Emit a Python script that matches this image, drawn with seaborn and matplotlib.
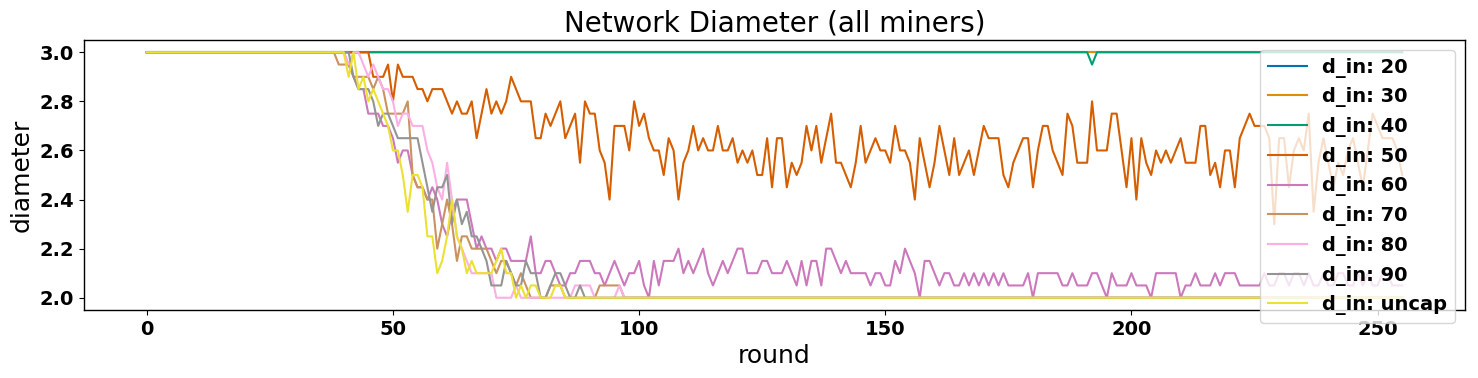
import matplotlib
matplotlib.use("Agg")
import matplotlib.pyplot as plt
import seaborn as sns
import numpy as np
import pandas as pd

# ---------------- data ----------------
N_ROUNDS = 256
rounds = list(range(N_ROUNDS))

labels = ["d_in: 20", "d_in: 30", "d_in: 40", "d_in: 50", "d_in: 60",
          "d_in: 70", "d_in: 80", "d_in: 90", "d_in: uncap"]

d20 = [3.0] * 256
d30 = [3.0] * 256
d40 = [3.0] * 192 + [2.95] + [3.0] * 63

d50 = ([3.0] * 46 +
       [2.9, 2.9, 2.9, 2.95, 2.8, 2.95, 2.9, 2.9, 2.9, 2.85,
        2.85, 2.8, 2.85, 2.85, 2.85, 2.8, 2.75, 2.8, 2.75, 2.75,
        2.8, 2.65, 2.75, 2.85, 2.75, 2.8, 2.75, 2.8, 2.9, 2.85,
        2.8, 2.8, 2.8, 2.65, 2.65, 2.75, 2.7, 2.75, 2.8, 2.65,
        2.7, 2.75, 2.55, 2.8, 2.75, 2.75, 2.6, 2.55, 2.4, 2.7] +
       [2.7, 2.7, 2.6, 2.8, 2.7, 2.75, 2.65, 2.6, 2.6, 2.5,
        2.65, 2.6, 2.4, 2.55, 2.6, 2.7, 2.6, 2.65, 2.6, 2.6,
        2.7, 2.6, 2.6, 2.65, 2.55, 2.6, 2.55, 2.6, 2.5, 2.5,
        2.65, 2.45, 2.65, 2.65, 2.45, 2.55, 2.5, 2.55, 2.7, 2.6,
        2.7, 2.55, 2.65, 2.75, 2.55, 2.55, 2.5, 2.45] +
       [2.55, 2.7, 2.55, 2.6, 2.65, 2.6, 2.6, 2.55, 2.7, 2.6,
        2.6, 2.55, 2.4, 2.65, 2.55, 2.45, 2.55, 2.7, 2.6, 2.5,
        2.65, 2.5, 2.55, 2.6, 2.5, 2.6, 2.7, 2.65, 2.65, 2.65,
        2.5, 2.45, 2.55, 2.6, 2.65, 2.65, 2.45, 2.6, 2.7, 2.7,
        2.6, 2.55, 2.5, 2.75, 2.7, 2.55, 2.55, 2.55, 2.8, 2.6] +
       [2.6, 2.6, 2.75, 2.75, 2.6, 2.45, 2.65, 2.4, 2.65, 2.55,
        2.5, 2.6, 2.55, 2.6, 2.55, 2.6, 2.65, 2.55, 2.55, 2.55,
        2.7, 2.7, 2.5, 2.55, 2.45, 2.6, 2.6, 2.45, 2.65, 2.7,
        2.75, 2.7] +
       [2.7, 2.7, 2.65, 2.3, 2.65, 2.65, 2.45, 2.6, 2.65, 2.6,
        2.75, 2.35, 2.55, 2.65, 2.55, 2.45, 2.55, 2.5, 2.6, 2.65,
        2.55, 2.45, 2.6, 2.75, 2.7, 2.65, 2.65, 2.65, 2.6, 2.5])

d60 = ([3.0] * 40 +
       [3.0, 2.95, 2.9, 2.85, 2.85, 2.75, 2.75, 2.75, 2.7, 2.7,
        2.65, 2.55, 2.6, 2.6, 2.5, 2.45] +
       [2.45, 2.4, 2.45, 2.4, 2.3, 2.25, 2.35, 2.4, 2.4, 2.4,
        2.3, 2.2, 2.25, 2.2, 2.2, 2.15, 2.2, 2.2, 2.15, 2.15] +
       [2.15, 2.15, 2.25, 2.1, 2.1, 2.15, 2.15, 2.1, 2.05, 2.05,
        2.1, 2.1, 2.15, 2.15, 2.15, 2.1, 2.1, 2.05, 2.1] +
       [2.15, 2.1, 2.05, 2.1, 2.1, 2.15, 2.05, 2.0, 2.15, 2.05,
        2.15, 2.15, 2.15, 2.2, 2.1, 2.15, 2.1, 2.15, 2.2, 2.1,
        2.05, 2.1, 2.15, 2.1, 2.15, 2.2, 2.2, 2.1, 2.1, 2.1,
        2.15, 2.15, 2.1, 2.1, 2.1, 2.15, 2.1, 2.05, 2.15, 2.05,
        2.15, 2.15, 2.05, 2.2, 2.2, 2.15, 2.1] +
       [2.15, 2.1, 2.1, 2.1, 2.1, 2.05, 2.1, 2.1, 2.05, 2.05,
        2.15, 2.1, 2.2, 2.15, 2.1, 2.0, 2.15, 2.15, 2.1, 2.05,
        2.1, 2.1, 2.05, 2.05, 2.1, 2.05, 2.1, 2.05, 2.1, 2.05,
        2.1, 2.05, 2.1, 2.05, 2.05, 2.05, 2.05, 2.1, 2.0, 2.1,
        2.1, 2.1, 2.1, 2.1, 2.05, 2.05, 2.1, 2.05, 2.05, 2.05,
        2.1, 2.1] +
       [2.05, 2.0, 2.1, 2.05, 2.05, 2.05, 2.1, 2.05, 2.05, 2.05,
        2.0, 2.1, 2.1, 2.1, 2.1, 2.1, 2.0, 2.05, 2.05, 2.1,
        2.05, 2.05, 2.05, 2.1, 2.05, 2.1, 2.1, 2.1, 2.05, 2.05,
        2.05, 2.05] +
       [2.05, 2.1, 2.05, 2.05, 2.1, 2.1, 2.05, 2.1, 2.1, 2.05,
        2.1, 2.05, 2.05, 2.1, 2.05, 2.05, 2.1, 2.1, 2.05, 2.05,
        2.1, 2.05, 2.1, 2.05, 2.05, 2.1, 2.1, 2.05, 2.05, 2.05])

d70 = ([3.0] * 38 +
       [3.0, 2.95, 2.95, 2.95, 2.9, 2.9, 2.9, 2.9, 2.85, 2.9,
        2.85, 2.75, 2.75, 2.75, 2.75, 2.8, 2.5, 2.45, 2.45, 2.4,
        2.4, 2.2, 2.3, 2.4, 2.3, 2.15, 2.25, 2.25, 2.2, 2.2,
        2.2, 2.2, 2.15, 2.1, 2.15, 2.15, 2.1, 2.05, 2.1, 2.05,
        2.0, 2.0, 2.0, 2.0, 2.05, 2.05, 2.05, 2.0, 2.0, 2.0,
        2.0, 2.0, 2.0, 2.0, 2.05, 2.05, 2.05, 2.05, 2.05, 2.0] +
       [2.0] * 158)

d80 = ([3.0] * 40 +
       [3.0, 2.95, 3.0, 3.0, 2.95, 2.9, 2.95, 2.9, 2.85, 2.85,
        2.8, 2.7, 2.75, 2.75, 2.7, 2.7, 2.7, 2.6, 2.55, 2.45,
        2.4, 2.55, 2.4, 2.25, 2.2, 2.15, 2.1, 2.1, 2.1, 2.1,
        2.1, 2.0, 2.0, 2.0, 2.0, 2.05, 2.0, 2.0, 2.0, 2.0,
        2.0, 2.0, 2.0, 2.0, 2.0, 2.0, 2.0, 2.05, 2.05, 2.05,
        2.05, 2.0, 2.0, 2.0, 2.0, 2.0, 2.05, 2.0] +
       [2.0] * 158)

d90 = ([3.0] * 41 +
       [3.0, 2.9, 2.85, 2.85, 2.85, 2.8, 2.7, 2.75, 2.75, 2.7,
        2.65, 2.65, 2.65, 2.65, 2.65, 2.55, 2.45, 2.35, 2.45, 2.45,
        2.5, 2.3, 2.4, 2.3, 2.35, 2.25, 2.25, 2.2, 2.15, 2.05,
        2.05, 2.05, 2.15, 2.1, 2.05, 2.05, 2.15, 2.1, 2.1, 2.0,
        2.0, 2.05, 2.1, 2.1, 2.05, 2.0, 2.0, 2.05, 2.0] +
       [2.0] * 166)

duncap = ([3.0] * 40 +
          [3.0, 2.9, 3.0, 2.85, 2.9, 2.8, 2.85, 2.8, 2.75, 2.7,
           2.6, 2.6, 2.5, 2.35, 2.5, 2.5, 2.45, 2.25, 2.25, 2.1,
           2.15, 2.25, 2.4, 2.25, 2.2, 2.1, 2.15, 2.1, 2.1, 2.1,
           2.1, 2.15, 2.2, 2.1, 2.1, 2.0, 2.05, 2.0, 2.05, 2.05,
           2.0, 2.0, 2.0, 2.05, 2.05, 2.0] +
          [2.0] * 170)

series = [d20, d30, d40, d50, d60, d70, d80, d90, duncap]
for s in series:
    assert len(s) == N_ROUNDS, len(s)

df = pd.concat(
    [pd.DataFrame({"round": rounds, "diameter": s, "d_in": lab})
     for s, lab in zip(series, labels)],
    ignore_index=True,
)

# ---------------- plot ----------------
plt.rcParams["font.family"] = ["DejaVu Sans"]
plt.rcParams["text.color"] = "black"
plt.rcParams["axes.labelcolor"] = "black"

fig = plt.figure(figsize=(14.78, 3.78), dpi=100)
ax = fig.add_axes([84 / 1478, 68 / 378, (1465 - 84) / 1478, (310 - 40) / 378])

palette = sns.color_palette("colorblind", 9)
sns.lineplot(data=df, x="round", y="diameter", hue="d_in",
             hue_order=labels, palette=palette, linewidth=1.5,
             ax=ax, legend=False, estimator=None, sort=False)

for spine in ax.spines.values():
    spine.set_visible(True)
    spine.set_color("black")
    spine.set_linewidth(1.0)

ax.set_title("Network Diameter (all miners)", fontsize=20, color="black")
ax.set_xlabel("round", fontsize=18)
ax.set_ylabel("diameter", fontsize=18)
ax.set_xticks([0, 50, 100, 150, 200, 250])
ax.set_yticks([2.0, 2.2, 2.4, 2.6, 2.8, 3.0])
ax.tick_params(axis="both", labelsize=14, direction="out", length=3.5,
               width=0.8, colors="black")
for t in ax.get_xticklabels() + ax.get_yticklabels():
    t.set_fontweight("bold")
ax.set_xlim(-12.75, 267.75)
ax.set_ylim(1.95, 3.05)

handles = [plt.Line2D([], [], color=palette[i], linewidth=1.5)
           for i in range(len(labels))]
leg = ax.legend(handles, labels, loc="upper right",
                prop={"weight": "bold", "size": 14}, frameon=True)
leg.get_frame().set_alpha(0.8)

fig.savefig("out.png", dpi=100)
